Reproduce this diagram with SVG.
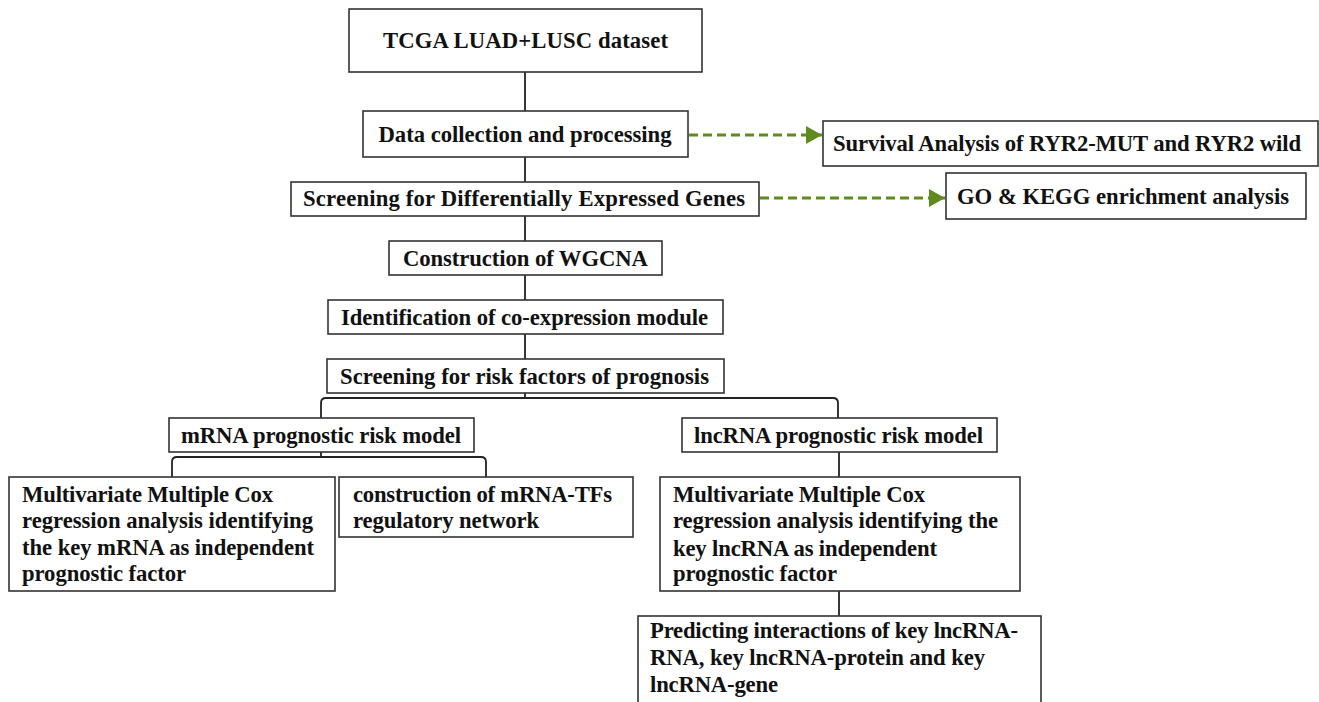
<svg xmlns="http://www.w3.org/2000/svg" width="1319" height="702" viewBox="0 0 1319 702">
<defs>
<style>
.box{fill:#fff;stroke:#333;stroke-width:1.6}
.t{font-family:'Liberation Serif','Times New Roman',serif;font-weight:700;font-size:22.7px;fill:#111}
.c{text-anchor:middle}
.ln{fill:none;stroke:#222;stroke-width:1.8}
.dash{fill:none;stroke:#5e8a1e;stroke-width:3;stroke-dasharray:9 5}
</style>
<marker id="ah" markerWidth="17" markerHeight="18" refX="16" refY="9" orient="auto" markerUnits="userSpaceOnUse">
<path d="M0,0 L16,9 L0,18 Z" fill="#5e8a1e"/>
</marker>
</defs>
<rect width="1319" height="702" fill="#fff"/>
<g id="connectors">
<line class="ln" x1="525" y1="72" x2="525" y2="111"/>
<line class="ln" x1="525" y1="157" x2="525" y2="182"/>
<line class="ln" x1="525" y1="216" x2="525" y2="241"/>
<line class="ln" x1="525" y1="275" x2="525" y2="300"/>
<line class="ln" x1="525" y1="334" x2="525" y2="359"/>
<line class="ln" x1="525" y1="393" x2="525" y2="398"/>
<path class="ln" d="M321,418 V403 Q321,398 326,398 H833 Q838,398 838,403 V418"/>
<line class="ln" x1="321" y1="452" x2="321" y2="457"/>
<path class="ln" d="M172,477 V462 Q172,457 177,457 H481 Q486,457 486,462 V477"/>
<line class="ln" x1="839" y1="452" x2="839" y2="477"/>
<line class="ln" x1="839" y1="591" x2="839" y2="616"/>
<line class="dash" x1="689" y1="135" x2="822" y2="135" marker-end="url(#ah)"/>
<line class="dash" x1="760" y1="198" x2="945" y2="198" marker-end="url(#ah)"/>
</g>
<g id="n1"><rect class="box" x="349" y="9" width="353" height="63"/><text class="t c" x="525.5" y="48" textLength="285" lengthAdjust="spacing">TCGA LUAD+LUSC dataset</text></g>
<g id="n2"><rect class="box" x="363" y="111" width="325" height="46"/><text class="t c" x="525" y="142" textLength="293" lengthAdjust="spacing">Data collection and processing</text></g>
<g id="n3"><rect class="box" x="823" y="121" width="495" height="45"/><text class="t c" x="1067" y="151" textLength="468" lengthAdjust="spacing">Survival Analysis of RYR2-MUT and RYR2 wild</text></g>
<g id="n4"><rect class="box" x="291" y="182" width="468" height="34"/><text class="t c" x="524" y="206" textLength="442" lengthAdjust="spacing">Screening for Differentially Expressed Genes</text></g>
<g id="n5"><rect class="box" x="946" y="173" width="360" height="46"/><text class="t c" x="1123" y="204" textLength="332" lengthAdjust="spacing">GO &amp; KEGG enrichment analysis</text></g>
<g id="n6"><rect class="box" x="389" y="241" width="273" height="34"/><text class="t c" x="525.5" y="266" textLength="245" lengthAdjust="spacing">Construction of WGCNA</text></g>
<g id="n7"><rect class="box" x="328" y="300" width="395" height="34"/><text class="t c" x="524.5" y="325" textLength="367" lengthAdjust="spacing">Identification of co-expression module</text></g>
<g id="n8"><rect class="box" x="327" y="359" width="397" height="34"/><text class="t c" x="524.5" y="384" textLength="369" lengthAdjust="spacing">Screening for risk factors of prognosis</text></g>
<g id="n9"><rect class="box" x="169" y="418" width="305" height="34"/><text class="t c" x="321" y="443" textLength="280" lengthAdjust="spacing">mRNA prognostic risk model</text></g>
<g id="n10"><rect class="box" x="682" y="418" width="315" height="34"/><text class="t c" x="838.5" y="443" textLength="289" lengthAdjust="spacing">lncRNA prognostic risk model</text></g>
<g id="n11"><rect class="box" x="9" y="477" width="326" height="114"/>
<text class="t" x="22" y="502" textLength="251" lengthAdjust="spacing">Multivariate Multiple Cox</text>
<text class="t" x="22" y="528" textLength="291" lengthAdjust="spacing">regression analysis identifying</text>
<text class="t" x="22" y="555" textLength="292" lengthAdjust="spacing">the key mRNA as independent</text>
<text class="t" x="22" y="581" textLength="164" lengthAdjust="spacing">prognostic factor</text></g>
<g id="n12"><rect class="box" x="339" y="477" width="294" height="60"/>
<text class="t" x="353" y="502" textLength="259" lengthAdjust="spacing">construction of mRNA-TFs</text>
<text class="t" x="353" y="528" textLength="186" lengthAdjust="spacing">regulatory network</text></g>
<g id="n13"><rect class="box" x="660" y="477" width="360" height="114"/>
<text class="t" x="673" y="502" textLength="252" lengthAdjust="spacing">Multivariate Multiple Cox</text>
<text class="t" x="673" y="528" textLength="325" lengthAdjust="spacing">regression analysis identifying the</text>
<text class="t" x="673" y="556" textLength="264" lengthAdjust="spacing">key lncRNA as independent</text>
<text class="t" x="673" y="581" textLength="164" lengthAdjust="spacing">prognostic factor</text></g>
<g id="n14"><rect class="box" x="638" y="616" width="403" height="100"/>
<text class="t" x="650" y="638" textLength="368" lengthAdjust="spacing">Predicting interactions of key lncRNA-</text>
<text class="t" x="650" y="665" textLength="335" lengthAdjust="spacing">RNA, key lncRNA-protein and key</text>
<text class="t" x="650" y="692" textLength="128" lengthAdjust="spacing">lncRNA-gene</text></g>
</svg>
